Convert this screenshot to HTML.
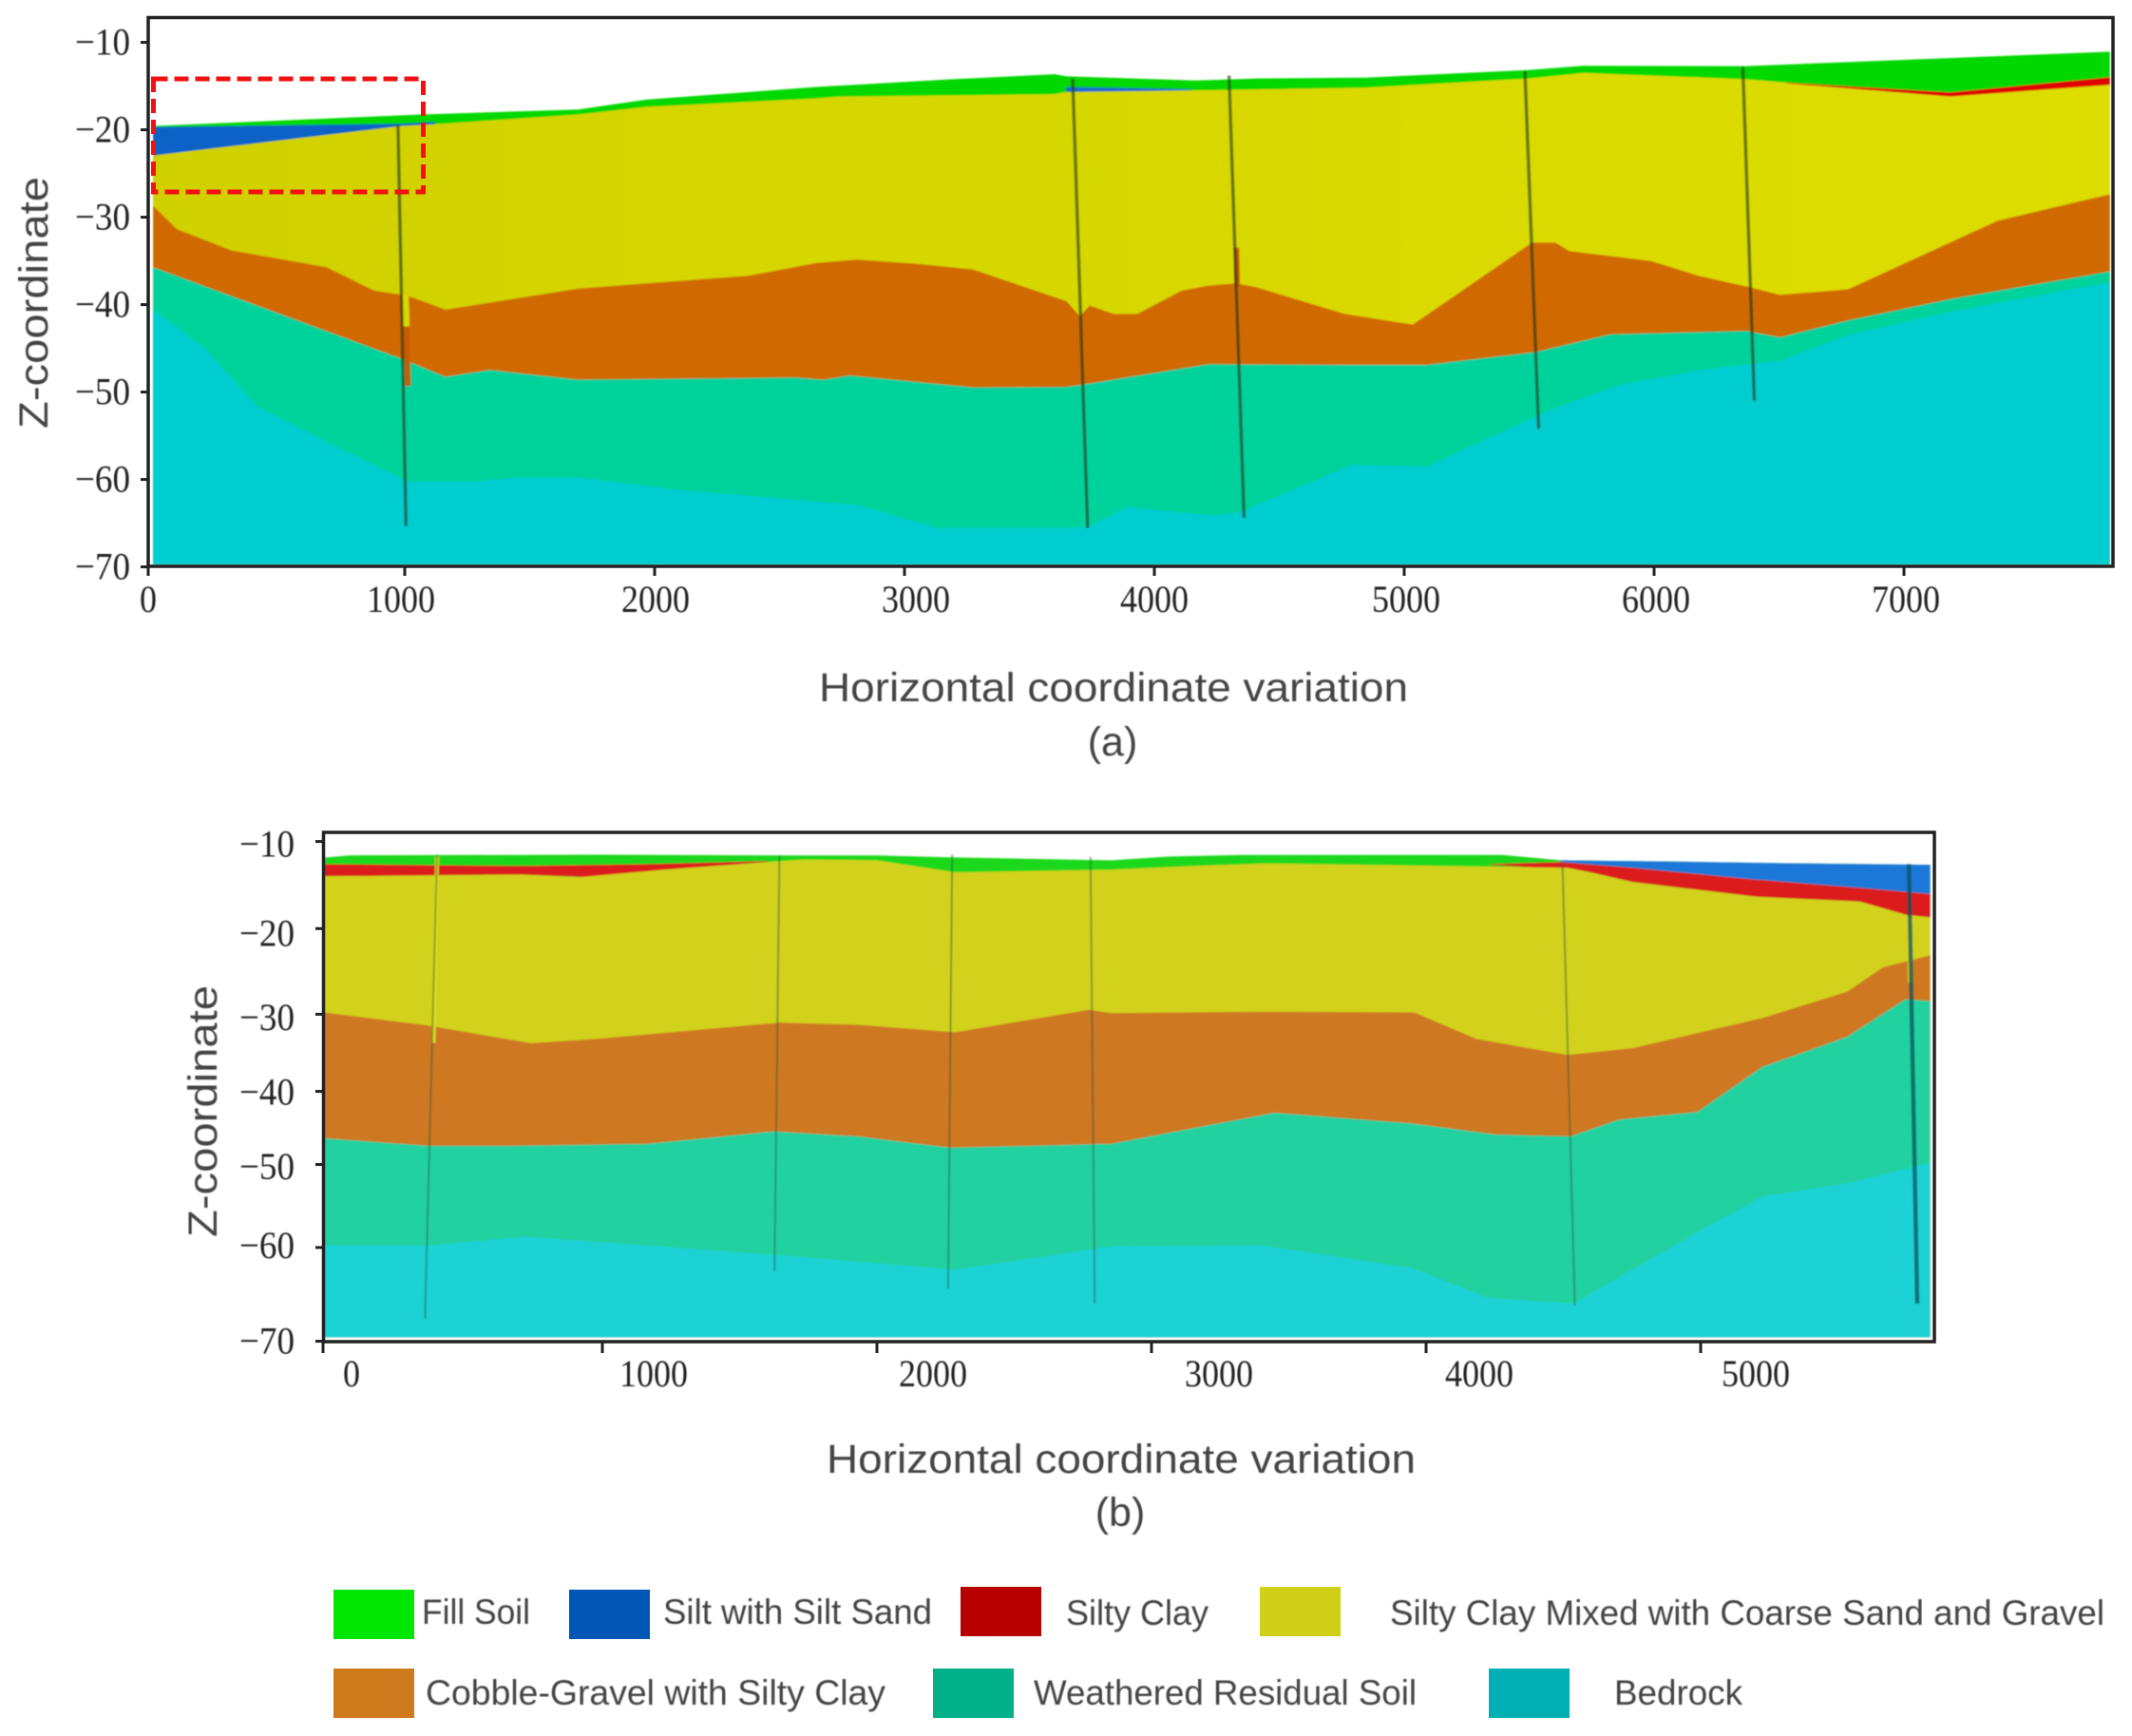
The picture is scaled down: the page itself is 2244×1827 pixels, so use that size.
<!DOCTYPE html>
<html lang="en">
<head>
<meta charset="utf-8">
<title>Geological cross-sections</title>
<style>
html,body{margin:0;padding:0;background:#fff;}
svg{display:block;}
.tick{font-family:"Liberation Serif",serif;font-size:40px;fill:#222;filter:blur(0.5px);}
.title{font-family:"Liberation Sans",sans-serif;font-size:43px;fill:#444;filter:blur(0.4px);}
.leg{font-family:"Liberation Sans",sans-serif;font-size:37px;fill:#444;filter:blur(0.4px);}
</style>
</head>
<body>
<svg id="figure" xmlns="http://www.w3.org/2000/svg" width="2244" height="1827" viewBox="0 0 2244 1827">
  <defs>
    <linearGradient id="aYellowFade" gradientUnits="userSpaceOnUse" x1="156" y1="0" x2="2224" y2="0">
      <stop offset="0" stop-color="#d0d000"/>
      <stop offset="0.35" stop-color="#d6d600"/>
      <stop offset="1" stop-color="#dddd00"/>
    </linearGradient>
    <filter id="soften" x="-2%" y="-2%" width="104%" height="104%">
      <feGaussianBlur stdDeviation="0.8"/>
    </filter>
  </defs>
  <rect x="0" y="0" width="2244" height="1827" fill="#fff"/>
  <g id="panelA" filter="url(#soften)"></g>
  <g id="panelB" filter="url(#soften)"></g>
  <rect x="156" y="18.5" width="2068" height="577.5" fill="none" stroke="#222" stroke-width="3.5"/>
  <rect x="340.5" y="876" width="1695.5" height="536" fill="none" stroke="#222" stroke-width="3.5"/>
  <rect x="161.5" y="83" width="284" height="119" fill="none" stroke="#f21010" stroke-width="5" stroke-dasharray="15 7"/>
  <text class="title" transform="translate(50,451) rotate(-90)" textLength="265" lengthAdjust="spacingAndGlyphs">Z-coordinate</text>
  <text class="title" x="862" y="738" textLength="620" lengthAdjust="spacingAndGlyphs">Horizontal coordinate variation</text>
  <text class="title" x="1171" y="795" text-anchor="middle">(a)</text>
  <text class="title" transform="translate(228,1302) rotate(-90)" textLength="265" lengthAdjust="spacingAndGlyphs">Z-coordinate</text>
  <text class="title" x="870" y="1550" textLength="620" lengthAdjust="spacingAndGlyphs">Horizontal coordinate variation</text>
  <text class="title" x="1179" y="1606" text-anchor="middle">(b)</text>
  <g>
    <rect x="351" y="1673" width="85" height="52" fill="#00e600"/>
    <text class="leg" x="444" y="1709" textLength="114" lengthAdjust="spacingAndGlyphs">Fill Soil</text>
    <rect x="599" y="1673" width="85" height="52" fill="#0055b5"/>
    <text class="leg" x="698" y="1709" textLength="283" lengthAdjust="spacingAndGlyphs">Silt with Silt Sand</text>
    <rect x="1011" y="1670" width="85" height="52" fill="#b80000"/>
    <text class="leg" x="1122" y="1710" textLength="150" lengthAdjust="spacingAndGlyphs">Silty Clay</text>
    <rect x="1326" y="1670" width="85" height="52" fill="#d0d018"/>
    <text class="leg" x="1463" y="1710" textLength="752" lengthAdjust="spacingAndGlyphs">Silty Clay Mixed with Coarse Sand and Gravel</text>
    <rect x="351" y="1756" width="85" height="52" fill="#cf7a1c"/>
    <text class="leg" x="448" y="1794" textLength="484" lengthAdjust="spacingAndGlyphs">Cobble-Gravel with Silty Clay</text>
    <rect x="982" y="1756" width="85" height="52" fill="#00b088"/>
    <text class="leg" x="1088" y="1794" textLength="403" lengthAdjust="spacingAndGlyphs">Weathered Residual Soil</text>
    <rect x="1567" y="1756" width="85" height="52" fill="#00b0b4"/>
    <text class="leg" x="1699" y="1794" textLength="135" lengthAdjust="spacingAndGlyphs">Bedrock</text>
  </g>
  <g id="axesLayer"></g>
</svg>
<script>
// ---------- Panel (a) data: [horizontal coordinate, z-coordinate] ----------
const aFillTop = [[-7,-19.56],[1068,-18.25],[1694,-17.67],[1966,-16.55],[2647,-15.1],[3191,-14.22],[3600,-13.64],[3646,-13.88],[4163,-14.37],[4408,-14.13],[4844,-14.03],[5497,-13.16],[5715,-12.67],[6368,-12.72],[7824,-11.07]];
const aSiltWedgeTop = [[-7,-19.7],[986,-19.3],[1122,-19.1]];
const aSiltWedgeBottom = [[1122,-19.37],[986,-19.56],[-7,-22.96]];
const aSiltLensTop = [[3646,-15.1],[4150,-15.34]];
const aSiltLensBottom = [[4150,-15.45],[3918,-15.63],[3646,-15.68]];
const aClayLensTop = [[6531,-14.61],[7185,-15.73],[7824,-13.98]];
const aClayLensBottom = [[7824,-14.85],[7185,-16.2],[6531,-14.7]];
const aGravellyClayTop = [[-7,-22.96],[986,-19.56],[1122,-19.37],[1694,-18.25],[1966,-17.38],[2647,-16.41],[2728,-16.21],[3600,-15.92],[3646,-15.68],[4163,-15.49],[4844,-15.19],[5497,-14.13],[5715,-13.5],[6368,-14.22],[6531,-14.61],[7185,-16.07],[7824,-14.85]];
const aCobbleTop = [[-7,-28.69],[88,-31.36],[306,-33.79],[687,-35.73],[877,-38.4],[986,-38.88],[1027,-39.13],[1163,-40.58],[1694,-38.16],[2375,-36.7],[2647,-35.24],[2810,-34.85],[3055,-35.34],[3273,-35.97],[3649,-39.61],[3701,-41.31],[3741,-40.1],[3837,-41.07],[3932,-41.07],[4109,-38.4],[4218,-37.82],[4327,-37.57],[4408,-38.01],[4762,-41.07],[5034,-42.28],[5511,-32.91],[5606,-32.91],[5660,-33.88],[5987,-35],[6178,-36.7],[6368,-37.91],[6504,-38.88],[6776,-38.25],[7375,-30.39],[7824,-27.38]];
const aWeatheredTop = [[-7,-35.73],[986,-46.17],[1027,-46.65],[1163,-48.25],[1340,-47.48],[1694,-48.59],[2565,-48.35],[2674,-48.59],[2783,-48.11],[3273,-49.47],[3649,-49.42],[3728,-49.08],[4218,-46.8],[4735,-46.89],[5089,-46.89],[5524,-45.44],[5824,-43.4],[6368,-43.01],[6504,-43.74],[6776,-41.8],[7185,-39.37],[7824,-36.21]];
const aBedrockTop = [[-7,-40.58],[197,-44.95],[414,-51.75],[714,-56.12],[1013,-60.24],[1286,-60.24],[1449,-59.76],[1694,-59.76],[2102,-61.21],[2810,-62.91],[3137,-65.58],[3649,-65.58],[3741,-65.34],[3891,-63.16],[4245,-64.13],[4354,-63.64],[4789,-58.3],[5089,-58.54],[5606,-51.75],[5878,-49.08],[6205,-47.38],[6504,-46.41],[6776,-43.5],[7185,-40.83],[7824,-37.43]];
const aBoreholes = [[973,-19.47,1005,-65.34],[3673,-14.13,3733,-65.6],[4299,-13.79,4359,-64.4],[5483,-13.3,5538,-54.2],[6355,-12.82,6401,-51]];
const aYellowCores = [[1002,-38.9,1006,-42.5]];
const aOrangeCores = [[1006,-42.5,1013,-49.3],[4328,-33.5,4331,-38]];
const aXTicks = [0,1000,2000,3000,4000,5000,6000,7000];
const aXLabels = ["0","1000","2000","3000","4000","5000","6000","7000"];
const aZTicks = [-10,-20,-30,-40,-50,-60,-70];
const aZLabels = ["\u221210","\u221220","\u221230","\u221240","\u221250","\u221260","\u221270"];

// ---------- Panel (b) data ----------
const bFillTop = [[-14,-11.94],[79,-11.67],[961,-11.58],[1645,-11.67],[1998,-11.67],[2263,-11.89],[2854,-12.26],[3068,-11.8],[3329,-11.62],[4277,-11.62],[4490,-12.26],[4869,-12.39],[5343,-12.62],[5836,-12.8]];
const bClayWestTop = [[-14,-12.71],[697,-12.93],[1160,-12.71],[1601,-12.35]];
const bClayWestBottom = [[1601,-12.48],[1226,-13.38],[961,-14.29],[697,-13.97],[-14,-14.19]];
const bSiltTop = [[4490,-12.26],[4869,-12.39],[5343,-12.62],[5836,-12.8]];
const bSiltBottom = [[5836,-16.31],[5604,-15.64],[5177,-14.51],[4751,-13.16],[4490,-12.48]];
const bClayEastTop = [[4229,-12.71],[4490,-12.48],[4751,-13.16],[5177,-14.51],[5604,-15.64],[5836,-16.31]];
const bClayEastBottom = [[5836,-19.11],[5746,-18.8],[5580,-17.22],[5201,-16.63],[4751,-14.87],[4585,-13.61],[4372,-13.07],[4229,-12.8]];
const bGravellyClayTop = [[-14,-14.19],[697,-13.97],[917,-14.29],[1226,-13.38],[1601,-12.48],[1733,-12.17],[1998,-12.26],[2285,-13.7],[2854,-13.38],[3163,-12.93],[3423,-12.62],[4040,-12.93],[4514,-13.16],[4585,-13.61],[4751,-14.87],[5201,-16.63],[5580,-17.22],[5746,-18.8],[5836,-19.11]];
const bCobbleTop = [[-14,-30.52],[365,-32.1],[741,-34.22],[983,-33.68],[1645,-31.74],[1932,-32.01],[2285,-32.91],[2771,-30.21],[2854,-30.6],[3423,-30.43],[3957,-30.52],[4182,-33.68],[4514,-35.62],[4751,-34.81],[5225,-31.2],[5533,-28.04],[5663,-25.11],[5836,-23.67]];
const bWeatheredTop = [[-14,-45.63],[365,-46.54],[652,-46.54],[1160,-46.31],[1624,-44.82],[1932,-45.41],[2263,-46.76],[2854,-46.3],[3447,-42.57],[3945,-43.83],[4253,-45.18],[4526,-45.41],[4703,-43.38],[4988,-42.48],[5225,-37.06],[5533,-33.46],[5746,-28.94],[5836,-29.17]];
const bBedrockTop = [[-14,-58.49],[365,-58.49],[719,-57.45],[1160,-58.49],[1624,-59.62],[2285,-61.42],[2854,-58.6],[3400,-58.49],[3945,-61.19],[4229,-64.8],[4537,-65.48],[4988,-56.91],[5225,-52.63],[5533,-51.05],[5836,-48.57]];
const bBoreholes = [[398,-11.58,354,-67.28],[1645,-11.67,1627,-61.6],[2274,-11.58,2259,-63.68],[2778,-11.8,2793,-65.48],[4497,-12.71,4542,-65.7]];
const bMainBorehole = [[5758,-12.71,5789,-65.48]];
const bYellowCores = [[398,-11.8,385,-34.2],[5758,-19,5762,-27]];
const bXTicks = [0,1000,2000,3000,4000,5000];
const bXLabels = ["0","1000","2000","3000","4000","5000"];
const bZTicks = [-10,-20,-30,-40,-50,-60,-70];
const bZLabels = ["\u221210","\u221220","\u221230","\u221240","\u221250","\u221260","\u221270"];

// ---------- Axis functions ----------
function ax(v){ return 163 + 0.263 * v; }
function az(v){ return 44.6 + (-10 - v) * 9.2; }
function bx(v){ return 345 + 0.289 * v; }
function bz(v){ return 885.6 + (-10 - v) * 8.766; }

// The scanned figure's tick marks and labels sit slightly off a straight scale.
const aXTickShift = [-7,0,0,0,0,0,0,0];
const aXLabelShift = [-7,-4,1,12,0,2,2,2];
const bXTickShift = [-5,0,0,0,0,0];
const bXLabelShift = [25,54,59,71,56,58];
const bZTickShift = [0,4,6.5,0,-10.7,-11,0];
const bZLabelShift = [3,9,10,1,-8,-13,0];

const NS = 'http://www.w3.org/2000/svg';
const panelA = document.getElementById('panelA');
const panelB = document.getElementById('panelB');
const axesLayer = document.getElementById('axesLayer');

function ptsAttr(list, fx, fz){
  return list.map(function(p){ return fx(p[0]).toFixed(1) + ',' + fz(p[1]).toFixed(1); }).join(' ');
}
function labelWidth(s){
  return s.replace('\u2212', '').length * 18 + (s.charAt(0) === '\u2212' ? 22 : 0);
}
function drawLayer(parent, name, top, color, fx, fz, floorZ){
  const first = top[0], last = top[top.length - 1];
  const el = document.createElementNS(NS, 'polygon');
  
  
  el.setAttribute('points', ptsAttr(top, fx, fz) + ' ' + fx(last[0]).toFixed(1) + ',' + fz(floorZ).toFixed(1) + ' ' + fx(first[0]).toFixed(1) + ',' + fz(floorZ).toFixed(1));
  el.setAttribute('fill', color);
  parent.appendChild(el);
}
function drawLens(parent, name, top, bottom, color, fx, fz){
  const el = document.createElementNS(NS, 'polygon');
  
  
  el.setAttribute('points', ptsAttr(top.concat(bottom), fx, fz));
  el.setAttribute('fill', color);
  parent.appendChild(el);
}
function drawSegments(parent, name, segs, color, width, fx, fz){
  segs.forEach(function(s){
    const el = document.createElementNS(NS, 'line');
    
    
    el.setAttribute('x1', fx(s[0]).toFixed(1));
    el.setAttribute('y1', fz(s[1]).toFixed(1));
    el.setAttribute('x2', fx(s[2]).toFixed(1));
    el.setAttribute('y2', fz(s[3]).toFixed(1));
    el.setAttribute('stroke', color);
    el.setAttribute('stroke-width', width);
    parent.appendChild(el);
  });
}
function drawXAxis(prefix, ticks, labels, fx, tickShift, labelShift, y0, tickLen, baseline){
  ticks.forEach(function(t, i){
    const x = fx(t) + tickShift[i];
    const tick = document.createElementNS(NS, 'line');
    
    
    tick.setAttribute('x1', x);
    tick.setAttribute('y1', y0);
    tick.setAttribute('x2', x);
    tick.setAttribute('y2', y0 + tickLen);
    tick.setAttribute('stroke', '#222');
    tick.setAttribute('stroke-width', 3);
    axesLayer.appendChild(tick);
    const label = document.createElementNS(NS, 'text');
    
    
    label.setAttribute('class', 'tick');
    label.setAttribute('x', fx(t) + labelShift[i]);
    label.setAttribute('y', baseline);
    label.setAttribute('text-anchor', 'middle');
    label.setAttribute('textLength', labelWidth(labels[i]));
    label.setAttribute('lengthAdjust', 'spacingAndGlyphs');
    label.textContent = labels[i];
    axesLayer.appendChild(label);
  });
}
function drawZAxis(prefix, ticks, labels, fz, tickShift, labelShift, x0, tickLen, labelRight){
  ticks.forEach(function(t, i){
    const y = fz(t) + tickShift[i];
    const tick = document.createElementNS(NS, 'line');
    
    
    tick.setAttribute('x1', x0 - tickLen);
    tick.setAttribute('y1', y);
    tick.setAttribute('x2', x0);
    tick.setAttribute('y2', y);
    tick.setAttribute('stroke', '#222');
    tick.setAttribute('stroke-width', 3);
    axesLayer.appendChild(tick);
    const label = document.createElementNS(NS, 'text');
    
    
    label.setAttribute('class', 'tick');
    label.setAttribute('x', labelRight);
    label.setAttribute('y', fz(t) + labelShift[i] + 13);
    label.setAttribute('text-anchor', 'end');
    label.setAttribute('textLength', labelWidth(labels[i]));
    label.setAttribute('lengthAdjust', 'spacingAndGlyphs');
    label.textContent = labels[i];
    axesLayer.appendChild(label);
  });
}

// ---------- Panel (a) ----------
const aFloor = -69.75;
drawLayer(panelA, 'a-fill-soil-layer', aFillTop, '#00d800', ax, az, aFloor);
drawLens(panelA, 'a-silt-wedge', aSiltWedgeTop, aSiltWedgeBottom, '#0a62c8', ax, az);
drawLens(panelA, 'a-silt-lens', aSiltLensTop, aSiltLensBottom, '#1a6ccc', ax, az);
drawLayer(panelA, 'a-silty-clay-gravel-layer', aGravellyClayTop, 'url(#aYellowFade)', ax, az, aFloor);
drawLens(panelA, 'a-silty-clay-lens', aClayLensTop, aClayLensBottom, '#e00000', ax, az);
drawLayer(panelA, 'a-cobble-gravel-layer', aCobbleTop, '#d06a00', ax, az, aFloor);
drawLayer(panelA, 'a-weathered-soil-layer', aWeatheredTop, '#00d29c', ax, az, aFloor);
drawLayer(panelA, 'a-bedrock-layer', aBedrockTop, '#00cdcf', ax, az, aFloor);
drawSegments(panelA, 'a-borehole-yellow-core', aYellowCores, '#d9d900', 7, ax, az);
drawSegments(panelA, 'a-borehole-orange-core', aOrangeCores, '#c85c00', 6, ax, az);
drawSegments(panelA, 'a-borehole', aBoreholes, 'rgba(30,55,25,0.62)', 3.5, ax, az);

// ---------- Panel (b) ----------
const bFloor = -69.5;
drawLayer(panelB, 'b-fill-soil-layer', bFillTop, '#1ed81e', bx, bz, bFloor);
drawLens(panelB, 'b-silty-clay-west', bClayWestTop, bClayWestBottom, '#dc1e1e', bx, bz);
drawLens(panelB, 'b-silt-lens', bSiltTop, bSiltBottom, '#1f78d8', bx, bz);
drawLens(panelB, 'b-silty-clay-east', bClayEastTop, bClayEastBottom, '#dc1e1e', bx, bz);
drawLayer(panelB, 'b-silty-clay-gravel-layer', bGravellyClayTop, '#d2d21e', bx, bz, bFloor);
drawLayer(panelB, 'b-cobble-gravel-layer', bCobbleTop, '#cf7822', bx, bz, bFloor);
drawLayer(panelB, 'b-weathered-soil-layer', bWeatheredTop, '#22d1a0', bx, bz, bFloor);
drawLayer(panelB, 'b-bedrock-layer', bBedrockTop, '#1fd2d4', bx, bz, bFloor);
drawSegments(panelB, 'b-borehole-yellow-core', bYellowCores, '#dede20', 4, bx, bz);
drawSegments(panelB, 'b-borehole', bBoreholes, 'rgba(30,80,60,0.45)', 2, bx, bz);
drawSegments(panelB, 'b-main-borehole', bMainBorehole, 'rgba(0,80,90,0.75)', 4.5, bx, bz);

// ---------- Axes ----------
drawXAxis('a', aXTicks, aXLabels, ax, aXTickShift, aXLabelShift, 596, 10, 644);
drawZAxis('a', aZTicks, aZLabels, az, aZTicks.map(function(){ return 0; }), aZTicks.map(function(){ return 0; }), 156, 8, 137);
drawXAxis('b', bXTicks, bXLabels, bx, bXTickShift, bXLabelShift, 1412, 12, 1459);
drawZAxis('b', bZTicks, bZLabels, bz, bZTickShift, bZLabelShift, 340, 8, 310);
</script>
</body>
</html>
